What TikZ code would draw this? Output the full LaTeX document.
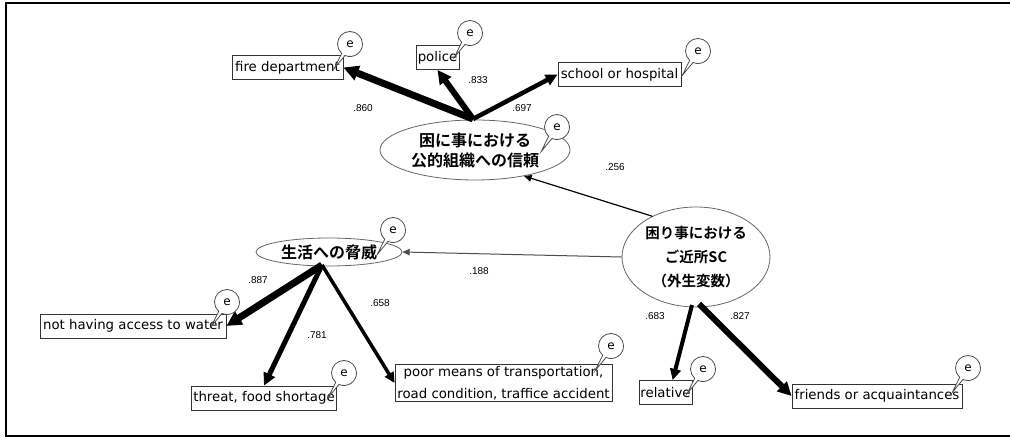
\documentclass[tikz,border=0pt]{standalone}
\usepackage{fontspec}
\setmainfont{DejaVu Sans}
\newfontfamily\cjk{Noto Sans CJK JP}[BoldFont={Noto Sans CJK JP Bold}]
\newfontfamily\numfont{Liberation Sans}
\usetikzlibrary{arrows.meta,shapes.geometric,shapes.callouts}
\begin{document}
\begin{tikzpicture}[x=1pt,y=-1pt,
  box/.style={draw=black!80, line width=0.8pt, font=\fontsize{13.3}{22}\selectfont, inner sep=1.5pt, minimum height=24pt},
  lat/.style={ellipse, draw=black!60, line width=0.8pt, inner sep=0pt, align=center},
  err/.style={ellipse callout, draw=black!70, fill=white, line width=0.8pt, minimum size=25pt, inner sep=0pt,
              font=\fontsize{12}{12}\selectfont, callout relative pointer={(-9pt,-14pt)}, callout pointer arc=18},
  coef/.style={font=\numfont\fontsize{10}{10}\selectfont, inner sep=0pt},
  load/.style={line width=#1, -{Triangle[length=6pt 1.3, width=5pt 1.4]}}
]
\useasboundingbox (0,0) rectangle (1010,438);
\draw[line width=1.5pt] (1010,3) -- (6,3) -- (6,436) -- (1010,436);

% latent variables
\node[lat, minimum width=190pt, minimum height=60pt,
      font=\cjk\bfseries\fontsize{16}{20}\selectfont] (trust) at (475,150) {困に事における\\公的組織への信頼};
\node[lat, minimum width=146pt, minimum height=28pt,
      font=\cjk\bfseries\fontsize{16}{20}\selectfont] (threat) at (329,252) {生活への脅威};
\node[lat, minimum width=148pt, minimum height=100pt,
      font=\cjk\bfseries\fontsize{14.5}{24}\selectfont] (sc) at (696,257) {困り事における\\ご近所SC\\（外生変数）};

% observed variables
\node[box, minimum width=111pt] (fire) at (287.5,67.5) {fire department};
\node[box, minimum width=43pt] (police) at (437.5,57.5) {police};
\node[box, minimum width=123pt] (school) at (619.5,74.5) {school or hospital};
\node[box, minimum width=186pt] (water) at (133,326) {not having access to water};
\node[box, minimum width=138pt] (food) at (264,398) {threat, food shortage};
\node[box, minimum width=217pt, align=center] (poor) at (503.5,383) {poor means of transportation,\\road condition, traffice accident};
\node[box, minimum width=41pt] (relative) at (665.5,392.5) {relative};
\node[box, minimum width=170pt] (friends) at (877,396) {friends or acquaintances};

% source points
\coordinate (tt) at (473,119);
\coordinate (th) at (322,265);
\coordinate (sb1) at (692,305);
\coordinate (sb2) at (699,304);

% loadings
\draw[load=7pt] (tt) -- (fire.east);
\draw[load=6pt] (tt) -- (police.south);
\draw[load=4.5pt] (tt) -- (school.west);
\draw[load=7pt] (th) -- (water.east);
\draw[load=5pt] (th) -- (food.north);
\draw[load=3.5pt] (th) -- (poor.west);
\draw[load=4pt] (sb1) -- (relative.60);
\draw[load=6pt] (sb2) -- (friends.west);
% structural paths
\draw[load=1.2pt] (sc.137) -- (trust.-28);
\draw[load=1pt, draw=black!70] (sc.west) -- (threat.east);

% coefficients
\node[coef] (c1) at (363,108) {.860};
\node[coef] (c2) at (478,80) {.833};
\node[coef] (c3) at (522,108) {.697};
\node[coef] (c4) at (615,167) {.256};
\node[coef] (c5) at (479,271) {.188};
\node[coef] (c6) at (258,280) {.887};
\node[coef] (c7) at (317,335) {.781};
\node[coef] (c8) at (380,303) {.658};
\node[coef] (c9) at (655,316) {.683};
\node[coef] (c10) at (740,316) {.827};

% error terms
\node[err] (e1) at (350,44) {e};
\node[err] (e2) at (470,33) {e};
\node[err] (e3) at (698,51) {e};
\node[err] (e4) at (557,127) {e};
\node[err] (e5) at (393,230) {e};
\node[err] (e6) at (227,302) {e};
\node[err] (e7) at (344,373) {e};
\node[err] (e8) at (611,346) {e};
\node[err] (e9) at (703,369) {e};
\node[err] (e10) at (968,368) {e};
\end{tikzpicture}
\end{document}
